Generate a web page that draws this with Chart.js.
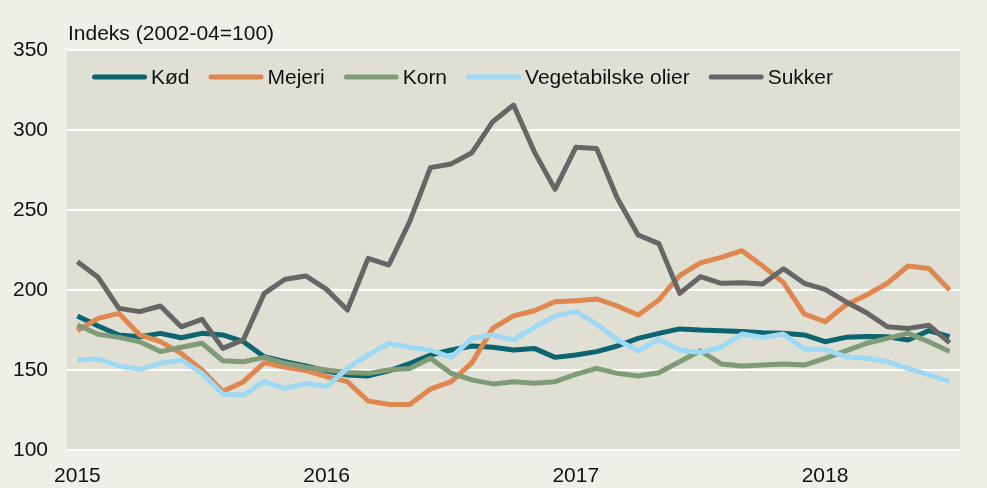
<!DOCTYPE html>
<html lang="da">
<head>
<meta charset="utf-8">
<title>Fødevarepriser</title>
<script src="https://cdn.jsdelivr.net/npm/chart.js@4.4.0/dist/chart.umd.min.js"></script>
<style>
  html, body { margin: 0; padding: 0; background: #efeee7; }
  #wrap { width: 987px; height: 488px; }
</style>
</head>
<body>
<div id="wrap"><canvas id="foodChart" width="987" height="488"></canvas></div>
<script>
// Månedlige prisindeks, januar 2015 - juli 2018
const months = [
    '2015-01','2015-02','2015-03','2015-04','2015-05','2015-06','2015-07','2015-08','2015-09','2015-10','2015-11','2015-12',
    '2016-01','2016-02','2016-03','2016-04','2016-05','2016-06','2016-07','2016-08','2016-09','2016-10','2016-11','2016-12',
    '2017-01','2017-02','2017-03','2017-04','2017-05','2017-06','2017-07','2017-08','2017-09','2017-10','2017-11','2017-12',
    '2018-01','2018-02','2018-03','2018-04','2018-05','2018-06','2018-07'
];

const kod = [183.8,177.5,171.9,170.8,172.9,170.2,172.9,171.9,167.7,158.3,155.2,152.5,
    149.4,146.9,146.3,149.5,154,159.4,162.5,165,164.2,162.5,163.5,157.9,
    159.4,161.5,165,169.8,172.9,175.7,175,174.6,174,173.3,172.9,171.9,
    167.7,170.4,171,170.8,168.8,174.6,170.8];

const mejeri = [174.6,182.3,185.4,171.9,167.7,160.4,150,136.5,142.7,154.6,151.7,149.6,
    145.8,142.7,130.6,128.5,128.5,138.1,142.7,154.6,176,183.8,187,192.7,
    193.3,194.4,190,184.4,193.8,209,217,220.4,224.6,215,204.6,185,
    180.2,190.6,196.9,204.2,215,213.5,200];

const korn = [178.1,172.3,170.4,167.7,161.5,164.2,166.7,155.8,155.2,157.9,154.2,151.7,
    150,148.5,147.9,150,151,157.3,147.9,143.8,141.3,142.7,141.7,142.7,
    147.3,151,147.9,146.3,148.3,155.2,162,153.8,152.5,153.1,153.8,153.1,
    157.3,162,166.7,169.8,172.9,167.7,161.5];

const vegOlier = [156.3,156.9,152.5,150.4,154.2,156.3,147.9,135,134.4,142.7,138.5,141.7,
    139.6,151,159.4,166.7,164.2,162.5,157.9,169.8,171.9,168.8,176.7,183.8,
    186.5,178.8,168.8,162,169.2,162.5,161,164.2,172.5,170.4,172.5,162.9,
    162.9,158.3,157.3,155.2,151,146.9,142.7];

const sukker = [217.7,207.9,188.5,186.5,190,177,181.7,163.5,169,197.9,206.7,208.8,
    200.4,187.5,219.8,215.6,242.7,276.5,278.8,285.8,305.2,315.6,286.5,262.9,
    289.2,288.5,257.3,234.4,229,197.9,208.3,204.2,204.6,203.8,213.3,204.2,
    200.4,192.7,185.8,177,176,178,167];

const seriesNames = ['Kød', 'Mejeri', 'Korn', 'Vegetabilske olier', 'Sukker'];
const seriesColors = ['#0b6470', '#e0864f', '#7f9b77', '#9dd9f5', '#666666'];
const yTicks = [100, 150, 200, 250, 300, 350];

const FONT = "'Liberation Sans', Arial, sans-serif";
const TEXT_COLOR = '#111111';

// baggrund for lærred og plotområde
const backdrop = {
    id: 'backdrop',
    beforeDraw(chart) {
        const { ctx, chartArea: a } = chart;
        ctx.save();
        ctx.fillStyle = '#efeee7';
        ctx.fillRect(0, 0, chart.width, chart.height);
        ctx.fillStyle = '#e0dfd4';
        ctx.fillRect(a.left, a.top, a.right - a.left, a.bottom - a.top);
        ctx.restore();
    }
};

// aksetitel + legende inde i plotområdet
const labelsAndLegend = {
    id: 'labelsAndLegend',
    afterDraw(chart) {
        const { ctx, chartArea: a } = chart;
        ctx.save();
        ctx.font = `21px ${FONT}`;
        ctx.fillStyle = TEXT_COLOR;
        ctx.textBaseline = 'alphabetic';
        ctx.fillText('Indeks (2002-04=100)', a.left + 1, 40);

        let x = 92;
        const lineY = 77;
        chart.data.datasets.forEach(ds => {
            ctx.strokeStyle = ds.borderColor;
            ctx.lineWidth = 5;
            ctx.lineCap = 'round';
            ctx.beginPath();
            ctx.moveTo(x + 2.5, lineY);
            ctx.lineTo(x + 52.5, lineY);
            ctx.stroke();
            ctx.fillStyle = TEXT_COLOR;
            ctx.fillText(ds.label, x + 59, 84);
            x += 59 + ctx.measureText(ds.label).width + 19;
        });
        ctx.restore();
    }
};

const seriesData = [kod, mejeri, korn, vegOlier, sukker];

new Chart(document.getElementById('foodChart'), {
    type: 'line',
    data: {
        labels: months,
        datasets: seriesData.map((values, i) => ({
            label: seriesNames[i],
            data: values,
            borderColor: seriesColors[i],
            backgroundColor: seriesColors[i],
            borderWidth: 5,
            borderJoinStyle: 'round',
            pointRadius: 0,
            tension: 0,
            order: seriesData.length - i
        }))
    },
    options: {
        responsive: false,
        animation: false,
        layout: { padding: { left: 0, right: 27, top: 50, bottom: 0 } },
        plugins: {
            legend: { display: false },
            tooltip: { enabled: false }
        },
        scales: {
            x: {
                offset: true,
                grid: { display: false },
                border: { display: false },
                afterFit(scale) { scale.height = 38; },
                ticks: {
                    autoSkip: false,
                    maxRotation: 0,
                    padding: 6,
                    color: TEXT_COLOR,
                    font: { family: FONT, size: 21 },
                    callback(value, index) {
                        const m = months[index];
                        return m.endsWith('-01') ? m.slice(0, 4) : '';
                    }
                }
            },
            y: {
                min: 100,
                max: 350,
                afterFit(scale) { scale.width = 67; },
                afterBuildTicks(scale) { scale.ticks = yTicks.map(v => ({ value: v })); },
                grid: { color: '#ffffff', lineWidth: 2, drawTicks: false },
                border: { display: false },
                ticks: {
                    padding: 19,
                    color: TEXT_COLOR,
                    font: { family: FONT, size: 21 }
                }
            }
        }
    },
    plugins: [backdrop, labelsAndLegend]
});
</script>
</body>
</html>
